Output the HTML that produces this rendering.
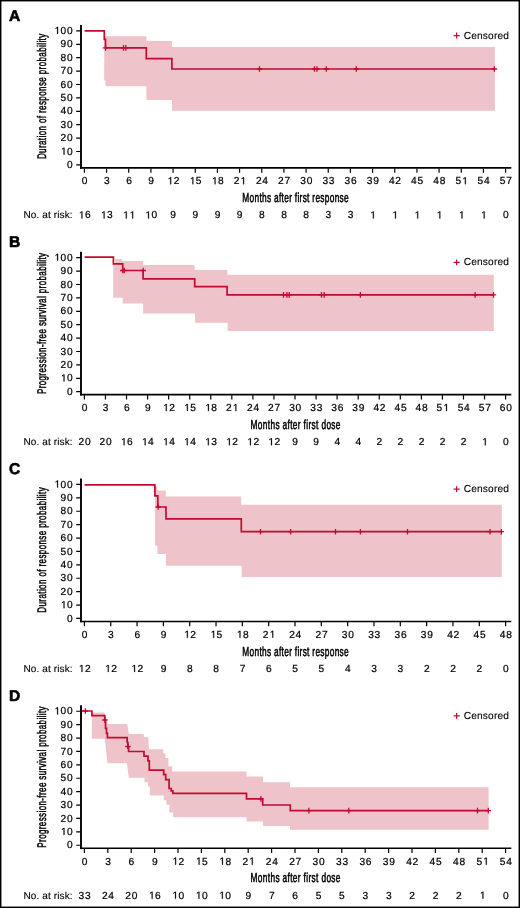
<!DOCTYPE html><html><head><meta charset="utf-8"><style>html,body{margin:0;padding:0;background:#fff;}svg{display:block;will-change:transform;}text{font-family:'Liberation Sans', sans-serif;text-rendering:geometricPrecision;}.n{stroke:#000;stroke-width:0.22px;}.n1{fill:#000;stroke:#000;stroke-width:0.22px;}</style></head><body>
<svg width="520" height="908" viewBox="0 0 520 908">
<rect x="0" y="0" width="520" height="908" fill="#fff"/>
<polygon fill="#eec3ca" points="104.3,36.2 146.4,36.2 146.4,41 172,41 172,46.9 494.9,46.9 494.9,110.7 172,110.7 172,100 146.4,100 146.4,86.3 105.4,86.3 105.4,80.6 104.2,80.6"/>
<polyline fill="none" stroke="#c30a30" stroke-width="1.7" stroke-linejoin="miter" points="84.6,30.9 104.3,30.9 104.3,39.3 105.5,39.3 105.5,47.9 146.3,47.9 146.3,58.7 171.9,58.7 171.9,69 494.5,69"/>
<path d="M102.8,47.9h5.4M105.5,45.1v5.6M120.8,47.9h5.4M123.5,45.1v5.6M123.1,47.9h5.4M125.8,45.1v5.6M256.8,69h5.4M259.5,66.2v5.6M311.8,69h5.4M314.5,66.2v5.6M314.3,69h5.4M317,66.2v5.6M323.6,69h5.4M326.3,66.2v5.6M353.6,69h5.4M356.3,66.2v5.6M491.7,69h5.4M494.4,66.2v5.6" stroke="#c30a30" stroke-width="1.3" fill="none"/>
<path d="M81.0,25V168.65" stroke="#000" stroke-width="1.9" fill="none"/>
<path d="M80.05,167.85H511.3" stroke="#000" stroke-width="1.55" fill="none"/>
<path d="M76.2,164.9H80.1M76.2,151.5H80.1M76.2,138.1H80.1M76.2,124.7H80.1M76.2,111.3H80.1M76.2,97.9H80.1M76.2,84.5H80.1M76.2,71.1H80.1M76.2,57.7H80.1M76.2,44.3H80.1M76.2,30.9H80.1" stroke="#000" stroke-width="1.2" fill="none"/>
<text x="66.98" y="168.05" class="n" font-size="10.2">0</text>
<path class="n1" d="M63.57,154.65L64.47,154.65L64.47,147.63L63.64,147.63L61.98,148.77L61.98,149.62L63.57,148.49Z"/><text x="66.98" y="154.65" class="n" font-size="10.2">0</text>
<text x="60.55" y="141.25" class="n" font-size="10.2">2</text><text x="66.98" y="141.25" class="n" font-size="10.2">0</text>
<text x="60.55" y="127.85" class="n" font-size="10.2">3</text><text x="66.98" y="127.85" class="n" font-size="10.2">0</text>
<text x="60.55" y="114.45" class="n" font-size="10.2">4</text><text x="66.98" y="114.45" class="n" font-size="10.2">0</text>
<text x="60.55" y="101.05" class="n" font-size="10.2">5</text><text x="66.98" y="101.05" class="n" font-size="10.2">0</text>
<text x="60.55" y="87.65" class="n" font-size="10.2">6</text><text x="66.98" y="87.65" class="n" font-size="10.2">0</text>
<text x="60.55" y="74.25" class="n" font-size="10.2">7</text><text x="66.98" y="74.25" class="n" font-size="10.2">0</text>
<text x="60.55" y="60.85" class="n" font-size="10.2">8</text><text x="66.98" y="60.85" class="n" font-size="10.2">0</text>
<text x="60.55" y="47.45" class="n" font-size="10.2">9</text><text x="66.98" y="47.45" class="n" font-size="10.2">0</text>
<path class="n1" d="M57.14,34.05L58.05,34.05L58.05,27.03L57.22,27.03L55.56,28.17L55.56,29.02L57.14,27.89Z"/><text x="60.55" y="34.05" class="n" font-size="10.2">0</text><text x="66.98" y="34.05" class="n" font-size="10.2">0</text>
<path d="M84.4,168.55V172.7M106.57,168.55V172.7M128.74,168.55V172.7M150.91,168.55V172.7M173.07,168.55V172.7M195.24,168.55V172.7M217.41,168.55V172.7M239.58,168.55V172.7M261.75,168.55V172.7M283.92,168.55V172.7M306.08,168.55V172.7M328.25,168.55V172.7M350.42,168.55V172.7M372.59,168.55V172.7M394.76,168.55V172.7M416.93,168.55V172.7M439.09,168.55V172.7M461.26,168.55V172.7M483.43,168.55V172.7M505.6,168.55V172.7" stroke="#000" stroke-width="1.2" fill="none"/>
<text x="81.79" y="184.3" class="n" font-size="10.2">0</text>
<text x="103.96" y="184.3" class="n" font-size="10.2">3</text>
<text x="126.13" y="184.3" class="n" font-size="10.2">6</text>
<text x="148.29" y="184.3" class="n" font-size="10.2">9</text>
<path class="n1" d="M170.26,184.3L171.17,184.3L171.17,177.28L170.34,177.28L168.68,178.42L168.68,179.27L170.26,178.14Z"/><text x="173.67" y="184.3" class="n" font-size="10.2">2</text>
<path class="n1" d="M192.43,184.3L193.33,184.3L193.33,177.28L192.51,177.28L190.85,178.42L190.85,179.27L192.43,178.14Z"/><text x="195.84" y="184.3" class="n" font-size="10.2">5</text>
<path class="n1" d="M214.6,184.3L215.5,184.3L215.5,177.28L214.68,177.28L213.02,178.42L213.02,179.27L214.6,178.14Z"/><text x="218.01" y="184.3" class="n" font-size="10.2">8</text>
<text x="233.76" y="184.3" class="n" font-size="10.2">2</text><path class="n1" d="M243.19,184.3L244.09,184.3L244.09,177.28L243.27,177.28L241.61,178.42L241.61,179.27L243.19,178.14Z"/>
<text x="255.92" y="184.3" class="n" font-size="10.2">2</text><text x="262.35" y="184.3" class="n" font-size="10.2">4</text>
<text x="278.09" y="184.3" class="n" font-size="10.2">2</text><text x="284.52" y="184.3" class="n" font-size="10.2">7</text>
<text x="300.26" y="184.3" class="n" font-size="10.2">3</text><text x="306.68" y="184.3" class="n" font-size="10.2">0</text>
<text x="322.43" y="184.3" class="n" font-size="10.2">3</text><text x="328.85" y="184.3" class="n" font-size="10.2">3</text>
<text x="344.6" y="184.3" class="n" font-size="10.2">3</text><text x="351.02" y="184.3" class="n" font-size="10.2">6</text>
<text x="366.77" y="184.3" class="n" font-size="10.2">3</text><text x="373.19" y="184.3" class="n" font-size="10.2">9</text>
<text x="388.94" y="184.3" class="n" font-size="10.2">4</text><text x="395.36" y="184.3" class="n" font-size="10.2">2</text>
<text x="411.1" y="184.3" class="n" font-size="10.2">4</text><text x="417.53" y="184.3" class="n" font-size="10.2">5</text>
<text x="433.27" y="184.3" class="n" font-size="10.2">4</text><text x="439.69" y="184.3" class="n" font-size="10.2">8</text>
<text x="455.44" y="184.3" class="n" font-size="10.2">5</text><path class="n1" d="M464.88,184.3L465.78,184.3L465.78,177.28L464.95,177.28L463.29,178.42L463.29,179.27L464.88,178.14Z"/>
<text x="477.61" y="184.3" class="n" font-size="10.2">5</text><text x="484.03" y="184.3" class="n" font-size="10.2">4</text>
<text x="499.78" y="184.3" class="n" font-size="10.2">5</text><text x="506.2" y="184.3" class="n" font-size="10.2">7</text>
<text x="23.5" y="218.4" font-size="10.0" letter-spacing="0.12" stroke="#000" stroke-width="0.12">No. at risk:</text>
<path class="n1" d="M81.49,218.4L82.39,218.4L82.39,211.38L81.57,211.38L79.91,212.52L79.91,213.37L81.49,212.24Z"/><text x="84.9" y="218.4" class="n" font-size="10.2">6</text>
<path class="n1" d="M103.66,218.4L104.56,218.4L104.56,211.38L103.73,211.38L102.08,212.52L102.08,213.37L103.66,212.24Z"/><text x="107.07" y="218.4" class="n" font-size="10.2">3</text>
<path class="n1" d="M125.83,218.4L126.73,218.4L126.73,211.38L125.9,211.38L124.24,212.52L124.24,213.37L125.83,212.24Z"/><path class="n1" d="M132.25,218.4L133.15,218.4L133.15,211.38L132.32,211.38L130.67,212.52L130.67,213.37L132.25,212.24Z"/>
<path class="n1" d="M148,218.4L148.9,218.4L148.9,211.38L148.07,211.38L146.41,212.52L146.41,213.37L148,212.24Z"/><text x="151.41" y="218.4" class="n" font-size="10.2">0</text>
<text x="170.36" y="218.4" class="n" font-size="10.2">9</text>
<text x="192.53" y="218.4" class="n" font-size="10.2">9</text>
<text x="214.7" y="218.4" class="n" font-size="10.2">9</text>
<text x="236.87" y="218.4" class="n" font-size="10.2">9</text>
<text x="259.04" y="218.4" class="n" font-size="10.2">8</text>
<text x="281.2" y="218.4" class="n" font-size="10.2">8</text>
<text x="303.37" y="218.4" class="n" font-size="10.2">8</text>
<text x="325.54" y="218.4" class="n" font-size="10.2">3</text>
<text x="347.71" y="218.4" class="n" font-size="10.2">3</text>
<path class="n1" d="M372.89,218.4L373.79,218.4L373.79,211.38L372.97,211.38L371.31,212.52L371.31,213.37L372.89,212.24Z"/>
<path class="n1" d="M395.06,218.4L395.96,218.4L395.96,211.38L395.13,211.38L393.48,212.52L393.48,213.37L395.06,212.24Z"/>
<path class="n1" d="M417.23,218.4L418.13,218.4L418.13,211.38L417.3,211.38L415.64,212.52L415.64,213.37L417.23,212.24Z"/>
<path class="n1" d="M439.4,218.4L440.3,218.4L440.3,211.38L439.47,211.38L437.81,212.52L437.81,213.37L439.4,212.24Z"/>
<path class="n1" d="M461.56,218.4L462.47,218.4L462.47,211.38L461.64,211.38L459.98,212.52L459.98,213.37L461.56,212.24Z"/>
<path class="n1" d="M483.73,218.4L484.63,218.4L484.63,211.38L483.81,211.38L482.15,212.52L482.15,213.37L483.73,212.24Z"/>
<text x="502.89" y="218.4" class="n" font-size="10.2">0</text>
<text transform="translate(295.5,202.05) scale(0.64,1)" x="0" y="0" font-size="13.0" stroke="#000" stroke-width="0.55" text-anchor="middle" textLength="166.09" lengthAdjust="spacing">Months after first response</text>
<text transform="translate(46.4,96.45) rotate(-90) scale(0.64,1)" x="0" y="0" font-size="12.5" stroke="#000" stroke-width="0.5" text-anchor="middle" textLength="195.78" lengthAdjust="spacing">Duration of response probability</text>
<path d="M453.6,35.55h6.2M456.6,32.6v5.9" stroke="#c30a30" stroke-width="1.25" fill="none"/>
<text x="463.7" y="38.7" font-size="10.2" letter-spacing="0.15" stroke="#000" stroke-width="0.1">Censored</text>
<text x="9.1" y="20.5" font-size="15.6" font-weight="bold" stroke="#000" stroke-width="0.6">A</text>
<polygon fill="#eec3ca" points="113.2,264.3 115.2,264.3 115.2,259.1 122,259.1 122,261.1 143.1,261.1 143.1,265 194.6,265 194.6,270 227.3,270 227.3,274.8 493.8,274.8 493.8,331 227.6,331 227.6,322.8 195,322.8 195,313.6 143.1,313.6 143.1,303.6 122.7,303.6 122.7,297.8 113.2,297.8"/>
<polyline fill="none" stroke="#c30a30" stroke-width="1.7" stroke-linejoin="miter" points="84.6,257.2 113.4,257.2 113.4,263.9 122.7,263.9 122.7,270.5 143.1,270.5 143.1,278.9 194.7,278.9 194.7,286.6 227.1,286.6 227.1,294.9 493.6,294.9"/>
<path d="M120,270.5h5.4M122.7,267.7v5.6M121.6,270.5h5.4M124.3,267.7v5.6M140.5,270.5h5.4M143.2,267.7v5.6M280.8,294.9h5.4M283.5,292.1v5.6M284.2,294.9h5.4M286.9,292.1v5.6M286.5,294.9h5.4M289.2,292.1v5.6M318.8,294.9h5.4M321.5,292.1v5.6M321.5,294.9h5.4M324.2,292.1v5.6M357.7,294.9h5.4M360.4,292.1v5.6M472.4,294.9h5.4M475.1,292.1v5.6M490.8,294.9h5.4M493.5,292.1v5.6" stroke="#c30a30" stroke-width="1.3" fill="none"/>
<path d="M81.0,251.78V395.43" stroke="#000" stroke-width="1.9" fill="none"/>
<path d="M80.05,394.63H511.3" stroke="#000" stroke-width="1.55" fill="none"/>
<path d="M76.2,391.68H80.1M76.2,378.28H80.1M76.2,364.88H80.1M76.2,351.48H80.1M76.2,338.08H80.1M76.2,324.68H80.1M76.2,311.28H80.1M76.2,297.88H80.1M76.2,284.48H80.1M76.2,271.08H80.1M76.2,257.68H80.1" stroke="#000" stroke-width="1.2" fill="none"/>
<text x="66.98" y="394.83" class="n" font-size="10.2">0</text>
<path class="n1" d="M63.57,381.43L64.47,381.43L64.47,374.41L63.64,374.41L61.98,375.55L61.98,376.4L63.57,375.27Z"/><text x="66.98" y="381.43" class="n" font-size="10.2">0</text>
<text x="60.55" y="368.03" class="n" font-size="10.2">2</text><text x="66.98" y="368.03" class="n" font-size="10.2">0</text>
<text x="60.55" y="354.63" class="n" font-size="10.2">3</text><text x="66.98" y="354.63" class="n" font-size="10.2">0</text>
<text x="60.55" y="341.23" class="n" font-size="10.2">4</text><text x="66.98" y="341.23" class="n" font-size="10.2">0</text>
<text x="60.55" y="327.83" class="n" font-size="10.2">5</text><text x="66.98" y="327.83" class="n" font-size="10.2">0</text>
<text x="60.55" y="314.43" class="n" font-size="10.2">6</text><text x="66.98" y="314.43" class="n" font-size="10.2">0</text>
<text x="60.55" y="301.03" class="n" font-size="10.2">7</text><text x="66.98" y="301.03" class="n" font-size="10.2">0</text>
<text x="60.55" y="287.63" class="n" font-size="10.2">8</text><text x="66.98" y="287.63" class="n" font-size="10.2">0</text>
<text x="60.55" y="274.23" class="n" font-size="10.2">9</text><text x="66.98" y="274.23" class="n" font-size="10.2">0</text>
<path class="n1" d="M57.14,260.83L58.05,260.83L58.05,253.81L57.22,253.81L55.56,254.95L55.56,255.8L57.14,254.67Z"/><text x="60.55" y="260.83" class="n" font-size="10.2">0</text><text x="66.98" y="260.83" class="n" font-size="10.2">0</text>
<path d="M84.4,395.33V399.48M105.46,395.33V399.48M126.52,395.33V399.48M147.58,395.33V399.48M168.64,395.33V399.48M189.7,395.33V399.48M210.76,395.33V399.48M231.82,395.33V399.48M252.88,395.33V399.48M273.94,395.33V399.48M295,395.33V399.48M316.06,395.33V399.48M337.12,395.33V399.48M358.18,395.33V399.48M379.24,395.33V399.48M400.3,395.33V399.48M421.36,395.33V399.48M442.42,395.33V399.48M463.48,395.33V399.48M484.54,395.33V399.48M505.6,395.33V399.48" stroke="#000" stroke-width="1.2" fill="none"/>
<text x="81.79" y="411.08" class="n" font-size="10.2">0</text>
<text x="102.85" y="411.08" class="n" font-size="10.2">3</text>
<text x="123.91" y="411.08" class="n" font-size="10.2">6</text>
<text x="144.97" y="411.08" class="n" font-size="10.2">9</text>
<path class="n1" d="M165.83,411.08L166.73,411.08L166.73,404.06L165.91,404.06L164.25,405.2L164.25,406.05L165.83,404.92Z"/><text x="169.24" y="411.08" class="n" font-size="10.2">2</text>
<path class="n1" d="M186.89,411.08L187.79,411.08L187.79,404.06L186.97,404.06L185.31,405.2L185.31,406.05L186.89,404.92Z"/><text x="190.3" y="411.08" class="n" font-size="10.2">5</text>
<path class="n1" d="M207.95,411.08L208.85,411.08L208.85,404.06L208.03,404.06L206.37,405.2L206.37,406.05L207.95,404.92Z"/><text x="211.36" y="411.08" class="n" font-size="10.2">8</text>
<text x="226" y="411.08" class="n" font-size="10.2">2</text><path class="n1" d="M235.43,411.08L236.33,411.08L236.33,404.06L235.51,404.06L233.85,405.2L233.85,406.05L235.43,404.92Z"/>
<text x="247.06" y="411.08" class="n" font-size="10.2">2</text><text x="253.48" y="411.08" class="n" font-size="10.2">4</text>
<text x="268.12" y="411.08" class="n" font-size="10.2">2</text><text x="274.54" y="411.08" class="n" font-size="10.2">7</text>
<text x="289.18" y="411.08" class="n" font-size="10.2">3</text><text x="295.6" y="411.08" class="n" font-size="10.2">0</text>
<text x="310.24" y="411.08" class="n" font-size="10.2">3</text><text x="316.66" y="411.08" class="n" font-size="10.2">3</text>
<text x="331.3" y="411.08" class="n" font-size="10.2">3</text><text x="337.72" y="411.08" class="n" font-size="10.2">6</text>
<text x="352.36" y="411.08" class="n" font-size="10.2">3</text><text x="358.78" y="411.08" class="n" font-size="10.2">9</text>
<text x="373.42" y="411.08" class="n" font-size="10.2">4</text><text x="379.84" y="411.08" class="n" font-size="10.2">2</text>
<text x="394.48" y="411.08" class="n" font-size="10.2">4</text><text x="400.9" y="411.08" class="n" font-size="10.2">5</text>
<text x="415.54" y="411.08" class="n" font-size="10.2">4</text><text x="421.96" y="411.08" class="n" font-size="10.2">8</text>
<text x="436.6" y="411.08" class="n" font-size="10.2">5</text><path class="n1" d="M446.03,411.08L446.93,411.08L446.93,404.06L446.11,404.06L444.45,405.2L444.45,406.05L446.03,404.92Z"/>
<text x="457.66" y="411.08" class="n" font-size="10.2">5</text><text x="464.08" y="411.08" class="n" font-size="10.2">4</text>
<text x="478.72" y="411.08" class="n" font-size="10.2">5</text><text x="485.14" y="411.08" class="n" font-size="10.2">7</text>
<text x="499.78" y="411.08" class="n" font-size="10.2">6</text><text x="506.2" y="411.08" class="n" font-size="10.2">0</text>
<text x="23.5" y="445.18" font-size="10.0" letter-spacing="0.12" stroke="#000" stroke-width="0.12">No. at risk:</text>
<text x="78.48" y="445.18" class="n" font-size="10.2">2</text><text x="84.9" y="445.18" class="n" font-size="10.2">0</text>
<text x="99.54" y="445.18" class="n" font-size="10.2">2</text><text x="105.96" y="445.18" class="n" font-size="10.2">0</text>
<path class="n1" d="M123.61,445.18L124.51,445.18L124.51,438.16L123.69,438.16L122.03,439.3L122.03,440.15L123.61,439.02Z"/><text x="127.02" y="445.18" class="n" font-size="10.2">6</text>
<path class="n1" d="M144.67,445.18L145.57,445.18L145.57,438.16L144.75,438.16L143.09,439.3L143.09,440.15L144.67,439.02Z"/><text x="148.08" y="445.18" class="n" font-size="10.2">4</text>
<path class="n1" d="M165.73,445.18L166.63,445.18L166.63,438.16L165.81,438.16L164.15,439.3L164.15,440.15L165.73,439.02Z"/><text x="169.14" y="445.18" class="n" font-size="10.2">4</text>
<path class="n1" d="M186.79,445.18L187.69,445.18L187.69,438.16L186.87,438.16L185.21,439.3L185.21,440.15L186.79,439.02Z"/><text x="190.2" y="445.18" class="n" font-size="10.2">4</text>
<path class="n1" d="M207.85,445.18L208.75,445.18L208.75,438.16L207.93,438.16L206.27,439.3L206.27,440.15L207.85,439.02Z"/><text x="211.26" y="445.18" class="n" font-size="10.2">3</text>
<path class="n1" d="M228.91,445.18L229.81,445.18L229.81,438.16L228.99,438.16L227.33,439.3L227.33,440.15L228.91,439.02Z"/><text x="232.32" y="445.18" class="n" font-size="10.2">2</text>
<path class="n1" d="M249.97,445.18L250.87,445.18L250.87,438.16L250.05,438.16L248.39,439.3L248.39,440.15L249.97,439.02Z"/><text x="253.38" y="445.18" class="n" font-size="10.2">2</text>
<path class="n1" d="M271.03,445.18L271.93,445.18L271.93,438.16L271.11,438.16L269.45,439.3L269.45,440.15L271.03,439.02Z"/><text x="274.44" y="445.18" class="n" font-size="10.2">2</text>
<text x="292.29" y="445.18" class="n" font-size="10.2">9</text>
<text x="313.35" y="445.18" class="n" font-size="10.2">9</text>
<text x="334.41" y="445.18" class="n" font-size="10.2">4</text>
<text x="355.47" y="445.18" class="n" font-size="10.2">4</text>
<text x="376.53" y="445.18" class="n" font-size="10.2">2</text>
<text x="397.59" y="445.18" class="n" font-size="10.2">2</text>
<text x="418.65" y="445.18" class="n" font-size="10.2">2</text>
<text x="439.71" y="445.18" class="n" font-size="10.2">2</text>
<text x="460.77" y="445.18" class="n" font-size="10.2">2</text>
<path class="n1" d="M484.84,445.18L485.74,445.18L485.74,438.16L484.92,438.16L483.26,439.3L483.26,440.15L484.84,439.02Z"/>
<text x="502.89" y="445.18" class="n" font-size="10.2">0</text>
<text transform="translate(295.5,428.83) scale(0.64,1)" x="0" y="0" font-size="13.0" stroke="#000" stroke-width="0.55" text-anchor="middle" textLength="140.62" lengthAdjust="spacing">Months after first dose</text>
<text transform="translate(46.4,323.5) rotate(-90) scale(0.64,1)" x="0" y="0" font-size="12.5" stroke="#000" stroke-width="0.5" text-anchor="middle" textLength="220.62" lengthAdjust="spacing">Progression-free survival probability</text>
<path d="M453.6,262.33h6.2M456.6,259.38v5.9" stroke="#c30a30" stroke-width="1.25" fill="none"/>
<text x="463.7" y="265.48" font-size="10.2" letter-spacing="0.15" stroke="#000" stroke-width="0.1">Censored</text>
<text x="9.1" y="247.28" font-size="15.6" font-weight="bold" stroke="#000" stroke-width="0.6">B</text>
<polygon fill="#eec3ca" points="155,486.5 157.4,486.5 157.4,490.4 165.8,490.4 165.8,496.6 241.1,496.6 241.1,504.7 501.8,504.7 501.8,577 241.6,577 241.6,565.7 165.9,565.7 165.9,554 157.4,554 157.4,545.4 155,545.4"/>
<polyline fill="none" stroke="#c30a30" stroke-width="1.7" stroke-linejoin="miter" points="84.6,484.8 154.9,484.8 154.9,495.9 157.8,495.9 157.8,507 166,507 166,518.8 241.3,518.8 241.3,531.7 501.5,531.7"/>
<path d="M155.5,507h5.4M158.2,504.2v5.6M257.8,531.7h5.4M260.5,528.9v5.6M287.9,531.7h5.4M290.6,528.9v5.6M332.8,531.7h5.4M335.5,528.9v5.6M357.7,531.7h5.4M360.4,528.9v5.6M404.8,531.7h5.4M407.5,528.9v5.6M487.3,531.7h5.4M490,528.9v5.6M498.7,531.7h5.4M501.4,528.9v5.6" stroke="#c30a30" stroke-width="1.3" fill="none"/>
<path d="M81.0,478.56V622.21" stroke="#000" stroke-width="1.9" fill="none"/>
<path d="M80.05,621.41H511.3" stroke="#000" stroke-width="1.55" fill="none"/>
<path d="M76.2,618.46H80.1M76.2,605.06H80.1M76.2,591.66H80.1M76.2,578.26H80.1M76.2,564.86H80.1M76.2,551.46H80.1M76.2,538.06H80.1M76.2,524.66H80.1M76.2,511.26H80.1M76.2,497.86H80.1M76.2,484.46H80.1" stroke="#000" stroke-width="1.2" fill="none"/>
<text x="66.98" y="621.61" class="n" font-size="10.2">0</text>
<path class="n1" d="M63.57,608.21L64.47,608.21L64.47,601.19L63.64,601.19L61.98,602.33L61.98,603.18L63.57,602.05Z"/><text x="66.98" y="608.21" class="n" font-size="10.2">0</text>
<text x="60.55" y="594.81" class="n" font-size="10.2">2</text><text x="66.98" y="594.81" class="n" font-size="10.2">0</text>
<text x="60.55" y="581.41" class="n" font-size="10.2">3</text><text x="66.98" y="581.41" class="n" font-size="10.2">0</text>
<text x="60.55" y="568.01" class="n" font-size="10.2">4</text><text x="66.98" y="568.01" class="n" font-size="10.2">0</text>
<text x="60.55" y="554.61" class="n" font-size="10.2">5</text><text x="66.98" y="554.61" class="n" font-size="10.2">0</text>
<text x="60.55" y="541.21" class="n" font-size="10.2">6</text><text x="66.98" y="541.21" class="n" font-size="10.2">0</text>
<text x="60.55" y="527.81" class="n" font-size="10.2">7</text><text x="66.98" y="527.81" class="n" font-size="10.2">0</text>
<text x="60.55" y="514.41" class="n" font-size="10.2">8</text><text x="66.98" y="514.41" class="n" font-size="10.2">0</text>
<text x="60.55" y="501.01" class="n" font-size="10.2">9</text><text x="66.98" y="501.01" class="n" font-size="10.2">0</text>
<path class="n1" d="M57.14,487.61L58.05,487.61L58.05,480.59L57.22,480.59L55.56,481.73L55.56,482.58L57.14,481.45Z"/><text x="60.55" y="487.61" class="n" font-size="10.2">0</text><text x="66.98" y="487.61" class="n" font-size="10.2">0</text>
<path d="M84.4,622.11V626.26M110.73,622.11V626.26M137.05,622.11V626.26M163.38,622.11V626.26M189.7,622.11V626.26M216.03,622.11V626.26M242.35,622.11V626.26M268.68,622.11V626.26M295,622.11V626.26M321.33,622.11V626.26M347.65,622.11V626.26M373.98,622.11V626.26M400.3,622.11V626.26M426.62,622.11V626.26M452.95,622.11V626.26M479.28,622.11V626.26M505.6,622.11V626.26" stroke="#000" stroke-width="1.2" fill="none"/>
<text x="81.79" y="637.86" class="n" font-size="10.2">0</text>
<text x="108.11" y="637.86" class="n" font-size="10.2">3</text>
<text x="134.44" y="637.86" class="n" font-size="10.2">6</text>
<text x="160.76" y="637.86" class="n" font-size="10.2">9</text>
<path class="n1" d="M186.89,637.86L187.79,637.86L187.79,630.84L186.97,630.84L185.31,631.98L185.31,632.83L186.89,631.7Z"/><text x="190.3" y="637.86" class="n" font-size="10.2">2</text>
<path class="n1" d="M213.22,637.86L214.12,637.86L214.12,630.84L213.29,630.84L211.63,631.98L211.63,632.83L213.22,631.7Z"/><text x="216.62" y="637.86" class="n" font-size="10.2">5</text>
<path class="n1" d="M239.54,637.86L240.44,637.86L240.44,630.84L239.62,630.84L237.96,631.98L237.96,632.83L239.54,631.7Z"/><text x="242.95" y="637.86" class="n" font-size="10.2">8</text>
<text x="262.85" y="637.86" class="n" font-size="10.2">2</text><path class="n1" d="M272.29,637.86L273.19,637.86L273.19,630.84L272.36,630.84L270.7,631.98L270.7,632.83L272.29,631.7Z"/>
<text x="289.18" y="637.86" class="n" font-size="10.2">2</text><text x="295.6" y="637.86" class="n" font-size="10.2">4</text>
<text x="315.5" y="637.86" class="n" font-size="10.2">2</text><text x="321.93" y="637.86" class="n" font-size="10.2">7</text>
<text x="341.83" y="637.86" class="n" font-size="10.2">3</text><text x="348.25" y="637.86" class="n" font-size="10.2">0</text>
<text x="368.15" y="637.86" class="n" font-size="10.2">3</text><text x="374.58" y="637.86" class="n" font-size="10.2">3</text>
<text x="394.48" y="637.86" class="n" font-size="10.2">3</text><text x="400.9" y="637.86" class="n" font-size="10.2">6</text>
<text x="420.8" y="637.86" class="n" font-size="10.2">3</text><text x="427.23" y="637.86" class="n" font-size="10.2">9</text>
<text x="447.13" y="637.86" class="n" font-size="10.2">4</text><text x="453.55" y="637.86" class="n" font-size="10.2">2</text>
<text x="473.45" y="637.86" class="n" font-size="10.2">4</text><text x="479.88" y="637.86" class="n" font-size="10.2">5</text>
<text x="499.78" y="637.86" class="n" font-size="10.2">4</text><text x="506.2" y="637.86" class="n" font-size="10.2">8</text>
<text x="23.5" y="671.96" font-size="10.0" letter-spacing="0.12" stroke="#000" stroke-width="0.12">No. at risk:</text>
<path class="n1" d="M81.49,671.96L82.39,671.96L82.39,664.94L81.57,664.94L79.91,666.08L79.91,666.93L81.49,665.8Z"/><text x="84.9" y="671.96" class="n" font-size="10.2">2</text>
<path class="n1" d="M107.82,671.96L108.72,671.96L108.72,664.94L107.89,664.94L106.23,666.08L106.23,666.93L107.82,665.8Z"/><text x="111.23" y="671.96" class="n" font-size="10.2">2</text>
<path class="n1" d="M134.14,671.96L135.04,671.96L135.04,664.94L134.22,664.94L132.56,666.08L132.56,666.93L134.14,665.8Z"/><text x="137.55" y="671.96" class="n" font-size="10.2">2</text>
<text x="160.66" y="671.96" class="n" font-size="10.2">9</text>
<text x="186.99" y="671.96" class="n" font-size="10.2">8</text>
<text x="213.31" y="671.96" class="n" font-size="10.2">8</text>
<text x="239.64" y="671.96" class="n" font-size="10.2">7</text>
<text x="265.96" y="671.96" class="n" font-size="10.2">6</text>
<text x="292.29" y="671.96" class="n" font-size="10.2">5</text>
<text x="318.61" y="671.96" class="n" font-size="10.2">5</text>
<text x="344.94" y="671.96" class="n" font-size="10.2">4</text>
<text x="371.26" y="671.96" class="n" font-size="10.2">3</text>
<text x="397.59" y="671.96" class="n" font-size="10.2">3</text>
<text x="423.91" y="671.96" class="n" font-size="10.2">2</text>
<text x="450.24" y="671.96" class="n" font-size="10.2">2</text>
<text x="476.56" y="671.96" class="n" font-size="10.2">2</text>
<text x="502.89" y="671.96" class="n" font-size="10.2">0</text>
<text transform="translate(295.5,655.61) scale(0.64,1)" x="0" y="0" font-size="13.0" stroke="#000" stroke-width="0.55" text-anchor="middle" textLength="166.09" lengthAdjust="spacing">Months after first response</text>
<text transform="translate(46.4,550.01) rotate(-90) scale(0.64,1)" x="0" y="0" font-size="12.5" stroke="#000" stroke-width="0.5" text-anchor="middle" textLength="195.78" lengthAdjust="spacing">Duration of response probability</text>
<path d="M453.6,489.11h6.2M456.6,486.16v5.9" stroke="#c30a30" stroke-width="1.25" fill="none"/>
<text x="463.7" y="492.26" font-size="10.2" letter-spacing="0.15" stroke="#000" stroke-width="0.1">Censored</text>
<text x="9.1" y="474.06" font-size="15.6" font-weight="bold" stroke="#000" stroke-width="0.6">C</text>
<polygon fill="#eec3ca" points="91.9,712.4 104.4,712.4 107.7,724 127.1,724 128.9,734 143.8,734 143.8,737.1 148.4,737.1 148.8,749.2 163.2,749.2 163.2,753.6 165.4,753.6 165.4,757.9 168.4,757.9 168.4,766.2 172.2,766.2 172.2,771.4 246.5,771.4 246.5,776.6 263,776.6 263,782.2 290,782.2 290,787.3 488.6,787.3 488.6,829.8 290,829.8 290,825.9 263,825.9 263,821.6 246.5,821.6 246.5,817.2 173.2,817.2 173.2,812.5 169.4,812.5 169.4,804.8 166.3,804.8 166.3,800.2 163.6,800.2 163.6,795.6 149.8,795.6 149.8,786.5 148.1,786.5 148.1,782.2 144.5,782.2 144.5,777.7 128.9,777.7 126.8,763.2 107.6,763.2 104.7,738.8 91.8,738.8"/>
<polyline fill="none" stroke="#c30a30" stroke-width="1.7" stroke-linejoin="miter" points="81.9,711 91.9,711 91.9,715.7 104.8,715.7 104.8,720 105.5,720 105.5,728.3 106.5,728.3 106.5,733.3 107.4,733.3 107.4,737.7 127.2,737.7 127.2,742.5 127.9,742.5 127.9,748 128.6,748 128.6,751.5 144,751.5 144,756.2 148,756.2 148,760.8 149.3,760.8 149.3,770.2 163.7,770.2 163.7,774.7 165.7,774.7 165.7,779.6 169.1,779.6 169.1,788.5 171.2,788.5 171.2,790.8 172.9,790.8 172.9,793.4 246.5,793.4 246.5,798.9 262.7,798.9 262.7,805 290.3,805 290.3,810.6 488.3,810.6"/>
<path d="M82.7,711h5.4M85.4,708.2v5.6M102.2,720h5.4M104.9,717.2v5.6M125.2,746.5h5.4M127.9,743.7v5.6M258.2,798.9h5.4M260.9,796.1v5.6M306.2,810.6h5.4M308.9,807.8v5.6M346.1,810.6h5.4M348.8,807.8v5.6M474.8,810.6h5.4M477.5,807.8v5.6M485.6,810.6h5.4M488.3,807.8v5.6" stroke="#c30a30" stroke-width="1.3" fill="none"/>
<path d="M81.0,705.34V848.99" stroke="#000" stroke-width="1.9" fill="none"/>
<path d="M80.05,848.19H511.3" stroke="#000" stroke-width="1.55" fill="none"/>
<path d="M76.2,845.24H80.1M76.2,831.84H80.1M76.2,818.44H80.1M76.2,805.04H80.1M76.2,791.64H80.1M76.2,778.24H80.1M76.2,764.84H80.1M76.2,751.44H80.1M76.2,738.04H80.1M76.2,724.64H80.1M76.2,711.24H80.1" stroke="#000" stroke-width="1.2" fill="none"/>
<text x="66.98" y="848.39" class="n" font-size="10.2">0</text>
<path class="n1" d="M63.57,834.99L64.47,834.99L64.47,827.97L63.64,827.97L61.98,829.11L61.98,829.96L63.57,828.83Z"/><text x="66.98" y="834.99" class="n" font-size="10.2">0</text>
<text x="60.55" y="821.59" class="n" font-size="10.2">2</text><text x="66.98" y="821.59" class="n" font-size="10.2">0</text>
<text x="60.55" y="808.19" class="n" font-size="10.2">3</text><text x="66.98" y="808.19" class="n" font-size="10.2">0</text>
<text x="60.55" y="794.79" class="n" font-size="10.2">4</text><text x="66.98" y="794.79" class="n" font-size="10.2">0</text>
<text x="60.55" y="781.39" class="n" font-size="10.2">5</text><text x="66.98" y="781.39" class="n" font-size="10.2">0</text>
<text x="60.55" y="767.99" class="n" font-size="10.2">6</text><text x="66.98" y="767.99" class="n" font-size="10.2">0</text>
<text x="60.55" y="754.59" class="n" font-size="10.2">7</text><text x="66.98" y="754.59" class="n" font-size="10.2">0</text>
<text x="60.55" y="741.19" class="n" font-size="10.2">8</text><text x="66.98" y="741.19" class="n" font-size="10.2">0</text>
<text x="60.55" y="727.79" class="n" font-size="10.2">9</text><text x="66.98" y="727.79" class="n" font-size="10.2">0</text>
<path class="n1" d="M57.14,714.39L58.05,714.39L58.05,707.37L57.22,707.37L55.56,708.51L55.56,709.36L57.14,708.23Z"/><text x="60.55" y="714.39" class="n" font-size="10.2">0</text><text x="66.98" y="714.39" class="n" font-size="10.2">0</text>
<path d="M84.4,848.89V853.04M107.8,848.89V853.04M131.2,848.89V853.04M154.6,848.89V853.04M178,848.89V853.04M201.4,848.89V853.04M224.8,848.89V853.04M248.2,848.89V853.04M271.6,848.89V853.04M295,848.89V853.04M318.4,848.89V853.04M341.8,848.89V853.04M365.2,848.89V853.04M388.6,848.89V853.04M412,848.89V853.04M435.4,848.89V853.04M458.8,848.89V853.04M482.2,848.89V853.04M505.6,848.89V853.04" stroke="#000" stroke-width="1.2" fill="none"/>
<text x="81.79" y="864.64" class="n" font-size="10.2">0</text>
<text x="105.19" y="864.64" class="n" font-size="10.2">3</text>
<text x="128.59" y="864.64" class="n" font-size="10.2">6</text>
<text x="151.99" y="864.64" class="n" font-size="10.2">9</text>
<path class="n1" d="M175.19,864.64L176.09,864.64L176.09,857.62L175.27,857.62L173.61,858.76L173.61,859.61L175.19,858.48Z"/><text x="178.6" y="864.64" class="n" font-size="10.2">2</text>
<path class="n1" d="M198.59,864.64L199.49,864.64L199.49,857.62L198.67,857.62L197.01,858.76L197.01,859.61L198.59,858.48Z"/><text x="202" y="864.64" class="n" font-size="10.2">5</text>
<path class="n1" d="M221.99,864.64L222.89,864.64L222.89,857.62L222.07,857.62L220.41,858.76L220.41,859.61L221.99,858.48Z"/><text x="225.4" y="864.64" class="n" font-size="10.2">8</text>
<text x="242.38" y="864.64" class="n" font-size="10.2">2</text><path class="n1" d="M251.81,864.64L252.71,864.64L252.71,857.62L251.89,857.62L250.23,858.76L250.23,859.61L251.81,858.48Z"/>
<text x="265.78" y="864.64" class="n" font-size="10.2">2</text><text x="272.2" y="864.64" class="n" font-size="10.2">4</text>
<text x="289.18" y="864.64" class="n" font-size="10.2">2</text><text x="295.6" y="864.64" class="n" font-size="10.2">7</text>
<text x="312.58" y="864.64" class="n" font-size="10.2">3</text><text x="319" y="864.64" class="n" font-size="10.2">0</text>
<text x="335.98" y="864.64" class="n" font-size="10.2">3</text><text x="342.4" y="864.64" class="n" font-size="10.2">3</text>
<text x="359.38" y="864.64" class="n" font-size="10.2">3</text><text x="365.8" y="864.64" class="n" font-size="10.2">6</text>
<text x="382.78" y="864.64" class="n" font-size="10.2">3</text><text x="389.2" y="864.64" class="n" font-size="10.2">9</text>
<text x="406.18" y="864.64" class="n" font-size="10.2">4</text><text x="412.6" y="864.64" class="n" font-size="10.2">2</text>
<text x="429.58" y="864.64" class="n" font-size="10.2">4</text><text x="436" y="864.64" class="n" font-size="10.2">5</text>
<text x="452.98" y="864.64" class="n" font-size="10.2">4</text><text x="459.4" y="864.64" class="n" font-size="10.2">8</text>
<text x="476.38" y="864.64" class="n" font-size="10.2">5</text><path class="n1" d="M485.81,864.64L486.71,864.64L486.71,857.62L485.89,857.62L484.23,858.76L484.23,859.61L485.81,858.48Z"/>
<text x="499.78" y="864.64" class="n" font-size="10.2">5</text><text x="506.2" y="864.64" class="n" font-size="10.2">4</text>
<text x="23.5" y="898.74" font-size="10.0" letter-spacing="0.12" stroke="#000" stroke-width="0.12">No. at risk:</text>
<text x="78.48" y="898.74" class="n" font-size="10.2">3</text><text x="84.9" y="898.74" class="n" font-size="10.2">3</text>
<text x="101.88" y="898.74" class="n" font-size="10.2">2</text><text x="108.3" y="898.74" class="n" font-size="10.2">4</text>
<text x="125.28" y="898.74" class="n" font-size="10.2">2</text><text x="131.7" y="898.74" class="n" font-size="10.2">0</text>
<path class="n1" d="M151.69,898.74L152.59,898.74L152.59,891.72L151.77,891.72L150.11,892.86L150.11,893.71L151.69,892.58Z"/><text x="155.1" y="898.74" class="n" font-size="10.2">6</text>
<path class="n1" d="M175.09,898.74L175.99,898.74L175.99,891.72L175.17,891.72L173.51,892.86L173.51,893.71L175.09,892.58Z"/><text x="178.5" y="898.74" class="n" font-size="10.2">0</text>
<path class="n1" d="M198.49,898.74L199.39,898.74L199.39,891.72L198.57,891.72L196.91,892.86L196.91,893.71L198.49,892.58Z"/><text x="201.9" y="898.74" class="n" font-size="10.2">0</text>
<path class="n1" d="M221.89,898.74L222.79,898.74L222.79,891.72L221.97,891.72L220.31,892.86L220.31,893.71L221.89,892.58Z"/><text x="225.3" y="898.74" class="n" font-size="10.2">0</text>
<text x="245.49" y="898.74" class="n" font-size="10.2">9</text>
<text x="268.89" y="898.74" class="n" font-size="10.2">7</text>
<text x="292.29" y="898.74" class="n" font-size="10.2">6</text>
<text x="315.69" y="898.74" class="n" font-size="10.2">5</text>
<text x="339.09" y="898.74" class="n" font-size="10.2">5</text>
<text x="362.49" y="898.74" class="n" font-size="10.2">3</text>
<text x="385.89" y="898.74" class="n" font-size="10.2">3</text>
<text x="409.29" y="898.74" class="n" font-size="10.2">2</text>
<text x="432.69" y="898.74" class="n" font-size="10.2">2</text>
<text x="456.09" y="898.74" class="n" font-size="10.2">2</text>
<path class="n1" d="M482.5,898.74L483.4,898.74L483.4,891.72L482.58,891.72L480.92,892.86L480.92,893.71L482.5,892.58Z"/>
<text x="502.89" y="898.74" class="n" font-size="10.2">0</text>
<text transform="translate(295.5,882.39) scale(0.64,1)" x="0" y="0" font-size="13.0" stroke="#000" stroke-width="0.55" text-anchor="middle" textLength="140.62" lengthAdjust="spacing">Months after first dose</text>
<text transform="translate(46.4,777.06) rotate(-90) scale(0.64,1)" x="0" y="0" font-size="12.5" stroke="#000" stroke-width="0.5" text-anchor="middle" textLength="220.62" lengthAdjust="spacing">Progression-free survival probability</text>
<path d="M453.6,715.89h6.2M456.6,712.94v5.9" stroke="#c30a30" stroke-width="1.25" fill="none"/>
<text x="463.7" y="719.04" font-size="10.2" letter-spacing="0.15" stroke="#000" stroke-width="0.1">Censored</text>
<text x="9.1" y="700.84" font-size="15.6" font-weight="bold" stroke="#000" stroke-width="0.6">D</text>
<rect x="0.72" y="0.72" width="518.56" height="906.56" fill="none" stroke="#000" stroke-width="1.44"/>
</svg></body></html>
